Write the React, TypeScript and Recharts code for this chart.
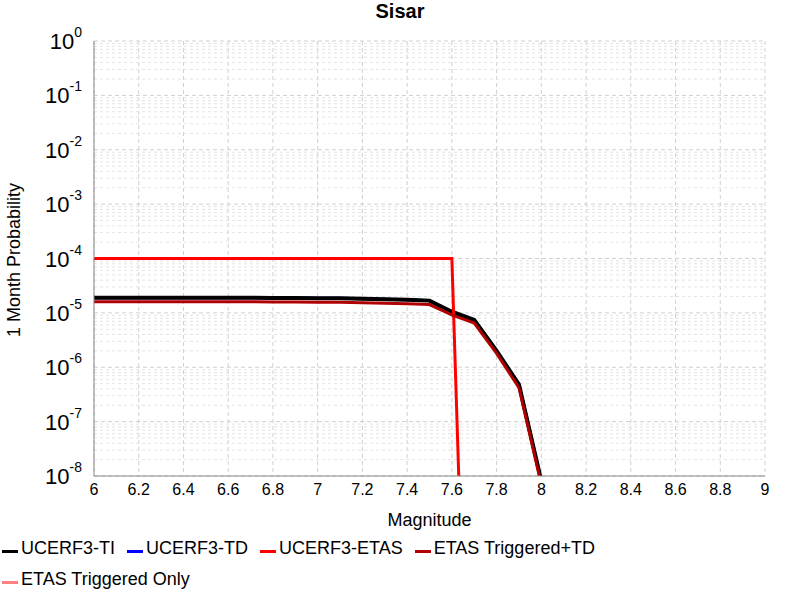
import React from 'react';
import { LineChart, Line, XAxis, YAxis, CartesianGrid, ReferenceLine } from 'recharts';

const mags = [6.0, 6.1, 6.2, 6.3, 6.4, 6.5, 6.6, 6.7, 6.8, 6.9, 7.0, 7.1, 7.2, 7.3, 7.4, 7.5, 7.6, 7.7, 7.8, 7.9, 8.0];
const ucerfTI = [1.9e-5, 1.9e-5, 1.9e-5, 1.9e-5, 1.9e-5, 1.9e-5, 1.9e-5, 1.9e-5, 1.88e-5, 1.88e-5, 1.86e-5, 1.85e-5, 1.82e-5, 1.78e-5, 1.74e-5, 1.68e-5, 1.05e-5, 7.4e-6, 2.0e-6, 4.8e-7, 8e-9];
const ucerfTD = ucerfTI;
const ucerfETAS = [1e-4, 1e-4, 1e-4, 1e-4, 1e-4, 1e-4, 1e-4, 1e-4, 1e-4, 1e-4, 1e-4, 1e-4, 1e-4, 1e-4, 1e-4, 1e-4, 1e-4, 1e-17, 1e-18, 1e-19, 1e-20];
const trigTD = [1.6e-5, 1.6e-5, 1.6e-5, 1.6e-5, 1.6e-5, 1.6e-5, 1.6e-5, 1.6e-5, 1.58e-5, 1.58e-5, 1.57e-5, 1.56e-5, 1.53e-5, 1.5e-5, 1.47e-5, 1.42e-5, 9.2e-6, 6.5e-6, 1.8e-6, 4.2e-7, 7e-9];

const xTicks = [6, 6.2, 6.4, 6.6, 6.8, 7, 7.2, 7.4, 7.6, 7.8, 8, 8.2, 8.4, 8.6, 8.8, 9];
const yExps = [0, -1, -2, -3, -4, -5, -6, -7, -8];
const yTicks = yExps.map((e) => Math.pow(10, e));
const minorY: number[] = [];
for (let e = -8; e < 0; e++) for (let m = 2; m < 10; m++) minorY.push(m * Math.pow(10, e));

const legend = [
  { label: 'UCERF3-TI', color: '#000000' },
  { label: 'UCERF3-TD', color: '#0000ff' },
  { label: 'UCERF3-ETAS', color: '#ff0000' },
  { label: 'ETAS Triggered+TD', color: '#b00000' },
  { label: 'ETAS Triggered Only', color: '#ff8080' },
];

const data = mags.map((m, i) => ({ m, ti: ucerfTI[i], td: ucerfTD[i], etas: ucerfETAS[i], trig: trigTD[i] }));

const font = '"Liberation Sans", Arial, sans-serif';

const YTick = (props: any) => {
  const { x, y, payload } = props;
  const e = Math.round(Math.log10(payload.value));
  return (
    <text x={x - 4} y={y + 8} textAnchor="end" fontFamily={font} fill="#000">
      <tspan fontSize={22}>10</tspan>
      <tspan fontSize={14} dy={-12}>{e}</tspan>
    </text>
  );
};

export default function App() {
  return (
    <div style={{ position: 'absolute', left: 0, top: 0, width: 800, height: 600, background: '#fff', fontFamily: font }}>
      <div style={{ position: 'absolute', top: 0, width: 800, textAlign: 'center', fontWeight: 'bold', fontSize: 20 }}>Sisar</div>
      <LineChart width={800} height={540} data={data} margin={{ top: 41, right: 35, bottom: 0, left: 0 }}>
        <CartesianGrid stroke="#d0d0d0" strokeDasharray="4 3" />
        {minorY.map((v) => (
          <ReferenceLine key={'y' + v} y={v} stroke="#e4e4e4" strokeDasharray="3 3" />
        ))}
        <XAxis
          dataKey="m"
          type="number"
          domain={[6, 9]}
          ticks={xTicks}
          tickFormatter={(v: number) => String(Math.round(v * 10) / 10)}
          tick={{ fill: '#000', fontSize: 16, fontFamily: font }}
          tickLine={false}
          axisLine={{ stroke: '#888' }}
          height={64}
          label={{ value: 'Magnitude', position: 'insideBottom', offset: 14, fill: '#000', fontSize: 18, fontFamily: font }}
        />
        <YAxis
          scale="log"
          domain={[1e-8, 1]}
          allowDataOverflow
          ticks={yTicks}
          tick={<YTick />}
          tickLine={false}
          axisLine={{ stroke: '#888' }}
          width={94}
        />
        <Line dataKey="td" stroke="#0000ff" strokeWidth={3} dot={false} isAnimationActive={false} />
        <Line dataKey="ti" stroke="#000000" strokeWidth={4} dot={false} isAnimationActive={false} />
        <Line dataKey="etas" stroke="#ff0000" strokeWidth={3} dot={false} isAnimationActive={false} />
        <Line dataKey="trig" stroke="#b00000" strokeWidth={3} dot={false} isAnimationActive={false} />
      </LineChart>
      <svg width={30} height={300} style={{ position: 'absolute', left: 0, top: 110 }}>
        <text x={20} y={150} transform="rotate(-90 20 150)" textAnchor="middle" fontSize={18} fontFamily={font} fill="#000">
          1 Month Probability
        </text>
      </svg>
      <div style={{ position: 'absolute', left: 2, top: 538, width: 680, display: 'flex', flexWrap: 'wrap', columnGap: 12, rowGap: 10, fontSize: 18 }}>
        {legend.map((l) => (
          <div key={l.label} style={{ display: 'flex', alignItems: 'center' }}>
            <span style={{ display: 'inline-block', width: 16, height: 3, background: l.color, marginRight: 3, marginTop: 6 }} />
            {l.label}
          </div>
        ))}
      </div>
    </div>
  );
}
